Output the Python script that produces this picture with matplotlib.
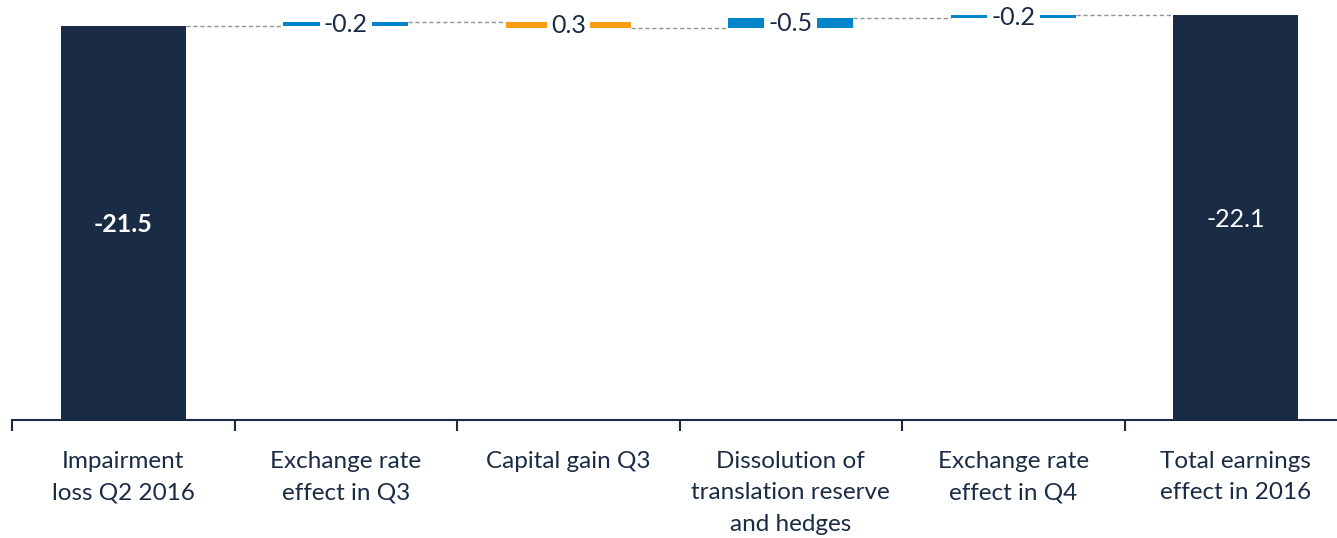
import matplotlib
matplotlib.use("Agg")
import matplotlib.pyplot as plt
import numpy as np

plt.rcParams["font.family"] = ["Lato", "DejaVu Sans"]

categories = [
    "Impairment\nloss Q2 2016",
    "Exchange rate\neffect in Q3",
    "Capital gain Q3",
    "Dissolution of\ntranslation reserve\nand hedges",
    "Exchange rate\neffect in Q4",
    "Total earnings\neffect in 2016",
]
start_value = -21.5
changes = [-0.2, 0.3, -0.5, -0.2]
total_value = -22.1
change_labels = ["-0.2", "0.3", "-0.5", "-0.2"]

NAVY = "#1a2b45"
BLUE = "#0085c8"
ORANGE = "#f99d12"
GRAY = "#8e939b"

fig = plt.figure(figsize=(13.37, 5.38), dpi=100)
ax = fig.add_axes([12 / 1337, 1 - 420 / 538, 1335 / 1337, 420 / 538])

x = np.arange(len(categories))
w = 0.56

# magnitudes drawn upward
level = -start_value
ax.bar(x[0], level, width=w, color=NAVY)
ax.text(x[0], level / 2 - 0.1, f"{start_value:.1f}", color="white", fontsize=18,
        fontweight="bold", ha="center", va="center")

levels = [level]
for i, (c, lab) in enumerate(zip(changes, change_labels), start=1):
    new = level - c
    lo, hi = min(level, new), max(level, new)
    ax.bar(x[i], hi - lo, bottom=lo, width=w, color=BLUE if c < 0 else ORANGE)
    ax.text(x[i], (lo + hi) / 2 - 0.05, lab, color=NAVY, fontsize=18, ha="center",
            va="center", bbox=dict(facecolor="white", edgecolor="none", pad=3))
    level = new
    levels.append(level)

ax.bar(x[-1], -total_value, width=w, color=NAVY)
ax.text(x[-1], -total_value / 2 - 0.1, f"{total_value:.1f}", color="white",
        fontsize=18, ha="center", va="center")

# dashed connectors
for i, lv in enumerate(levels):
    ax.plot([x[i] + w / 2, x[i + 1] - w / 2], [lv, lv], color=GRAY,
            lw=1, ls=(0, (3, 2)), zorder=0)

ax.set_xlim(-0.5, len(categories) - 0.5)
ax.set_ylim(0, 22.9)
for s in ["top", "right", "left"]:
    ax.spines[s].set_visible(False)
ax.spines["bottom"].set_color(NAVY)
ax.spines["bottom"].set_linewidth(1.5)
ax.set_yticks([])
ax.set_xticks(x)
ax.set_xticklabels(categories, fontsize=17.5, color=NAVY, linespacing=1.6)
ax.tick_params(axis="x", which="major", length=0, pad=22.5)
ax.set_xticks(np.arange(-0.5, len(categories)), minor=True)
ax.tick_params(axis="x", which="minor", length=8, width=1.5, color=NAVY)

fig.savefig("out.png", dpi=100)
